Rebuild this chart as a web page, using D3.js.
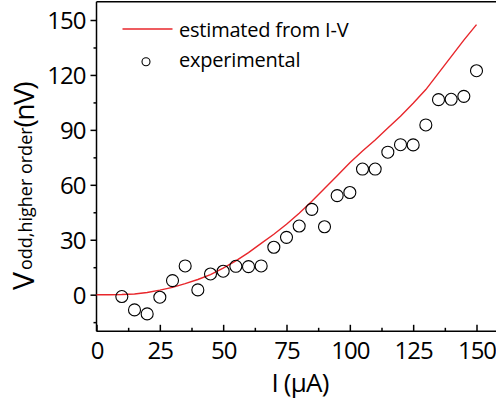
<!DOCTYPE html>
<html>
<head>
<meta charset="utf-8">
<script src="https://cdn.jsdelivr.net/npm/d3@7"></script>
<style>
  html, body { margin: 0; padding: 0; background: #fff; }
  svg { display: block; }
  text { font-family: "Open Sans", sans-serif; fill: #000; }
</style>
</head>
<body>
<svg id="chart" width="496" height="403"></svg>
<script>
// ---- data ----
const expI = [10,15,20,25,30,35,40,45,50,55,60,65,70,75,80,85,90,95,100,105,110,115,120,125,130,135,140,145,150];
const expV = [-1,-8.3,-10.5,-1.4,7.7,15.7,2.6,11.3,12.8,15.5,15.3,15.7,25.9,31.3,37.5,46.6,37.1,54.1,55.8,68.6,68.6,77.8,81.9,81.8,92.7,106.5,106.7,108.3,122.3];
const estI = [0,5,10,15,20,25,30,35,40,45,50,55,60,65,70,75,80,85,90,95,100,105,110,115,120,125,130,135,140,145,150];
const estV = [0,0,0.1,0.4,1.2,2.5,4,6,8.3,11,14.5,18.5,23,28,33,38.5,44.5,51,58,65,72,78.5,84.5,91,97.5,104.5,112,121,130,139,147.5];
const xTicks = [0,25,50,75,100,125,150];
const xMinor = [12.5,37.5,62.5,87.5,112.5,137.5];
const yTicks = [0,30,60,90,120,150];
const yMinor = [-15,15,45,75,105,135];
const legendLabels = ["estimated from I-V", "experimental"];

// ---- layout ----
const svg = d3.select("#chart");
const pL = 96.5, pR = 496, pT = 1.7, pB = 331.3;
const x = d3.scaleLinear().domain([0, 150]).range([pL, 476.5]);
const y = d3.scaleLinear().domain([-20, 160]).range([pB, pT]);

// frame top line
svg.append("line").attr("x1", pL).attr("x2", pR).attr("y1", pT).attr("y2", pT)
  .attr("stroke", "#000").attr("stroke-width", 1.5);

// x axis (ticks inward)
const xAxis = svg.append("g").attr("transform", `translate(0,${pB})`);
xAxis.call(d3.axisBottom(x).tickValues(xTicks).tickSize(-6.5).tickPadding(10).tickSizeOuter(0));
xAxis.append("g").call(d3.axisBottom(x).tickValues(xMinor).tickSize(-3.5).tickFormat("").tickSizeOuter(0))
  .select(".domain").remove();
xAxis.select(".domain").attr("d", `M${pL},0H${pR}`);
xAxis.selectAll("path,line").attr("stroke", "#000").attr("stroke-width", 1.5);
xAxis.selectAll(".tick text").attr("font-family", "Open Sans").attr("font-size", 24)
  .attr("letter-spacing", "-1px").attr("dy", "0.72em").attr("y", 10);

// y axis (ticks outward)
const yAxis = svg.append("g").attr("transform", `translate(${pL},0)`);
yAxis.call(d3.axisLeft(y).tickValues(yTicks).tickSize(6).tickPadding(5).tickSizeOuter(0));
yAxis.append("g").call(d3.axisLeft(y).tickValues(yMinor).tickSize(3).tickFormat("").tickSizeOuter(0))
  .select(".domain").remove();
yAxis.select(".domain").attr("d", `M0,${pB}V${pT}`);
yAxis.selectAll("path,line").attr("stroke", "#000").attr("stroke-width", 1.5);
yAxis.selectAll(".tick text").attr("font-family", "Open Sans").attr("font-size", 24)
  .attr("letter-spacing", "-1px").attr("dy", "0.36em");

// estimated line
svg.append("path")
  .datum(estI.map((d, i) => [d, estV[i]]))
  .attr("fill", "none").attr("stroke", "#e8262b").attr("stroke-width", 1.4)
  .attr("d", d3.line().x(d => x(d[0])).y(d => y(d[1])));

// experimental circles
svg.append("g").selectAll("circle")
  .data(expI.map((d, i) => [d, expV[i]]))
  .join("circle")
  .attr("cx", d => x(d[0])).attr("cy", d => y(d[1])).attr("r", 6)
  .attr("fill", "none").attr("stroke", "#000").attr("stroke-width", 1.1);

// legend
const lg = svg.append("g");
lg.append("line").attr("x1", 122.5).attr("x2", 172.5).attr("y1", 29).attr("y2", 29)
  .attr("stroke", "#e8262b").attr("stroke-width", 1.4);
lg.append("circle").attr("cx", 146).attr("cy", 61.7).attr("r", 4)
  .attr("fill", "none").attr("stroke", "#000").attr("stroke-width", 1.1);
lg.selectAll("text.lt").data(legendLabels).join("text").attr("class", "lt")
  .attr("x", 179).attr("y", (d, i) => 37 + i * 30)
  .attr("font-size", 20).attr("letter-spacing", "-0.2px")
  .text(d => d);

// x label
svg.append("text").attr("x", 300).attr("y", 392).attr("text-anchor", "middle")
  .attr("font-size", 26).attr("letter-spacing", "-0.8px").text("I (μA)");

// y label
const yl = svg.append("text").attr("transform", "translate(34,290) rotate(-90)")
  .attr("font-size", 30);
yl.append("tspan").text("V");
yl.append("tspan").attr("font-size", 18).attr("dy", -2).attr("dx", 2).text("odd,higher order");
yl.append("tspan").attr("dy", 2).attr("font-size", 28).attr("letter-spacing", "-1.5px").text("(nV)");
</script>
</body>
</html>
